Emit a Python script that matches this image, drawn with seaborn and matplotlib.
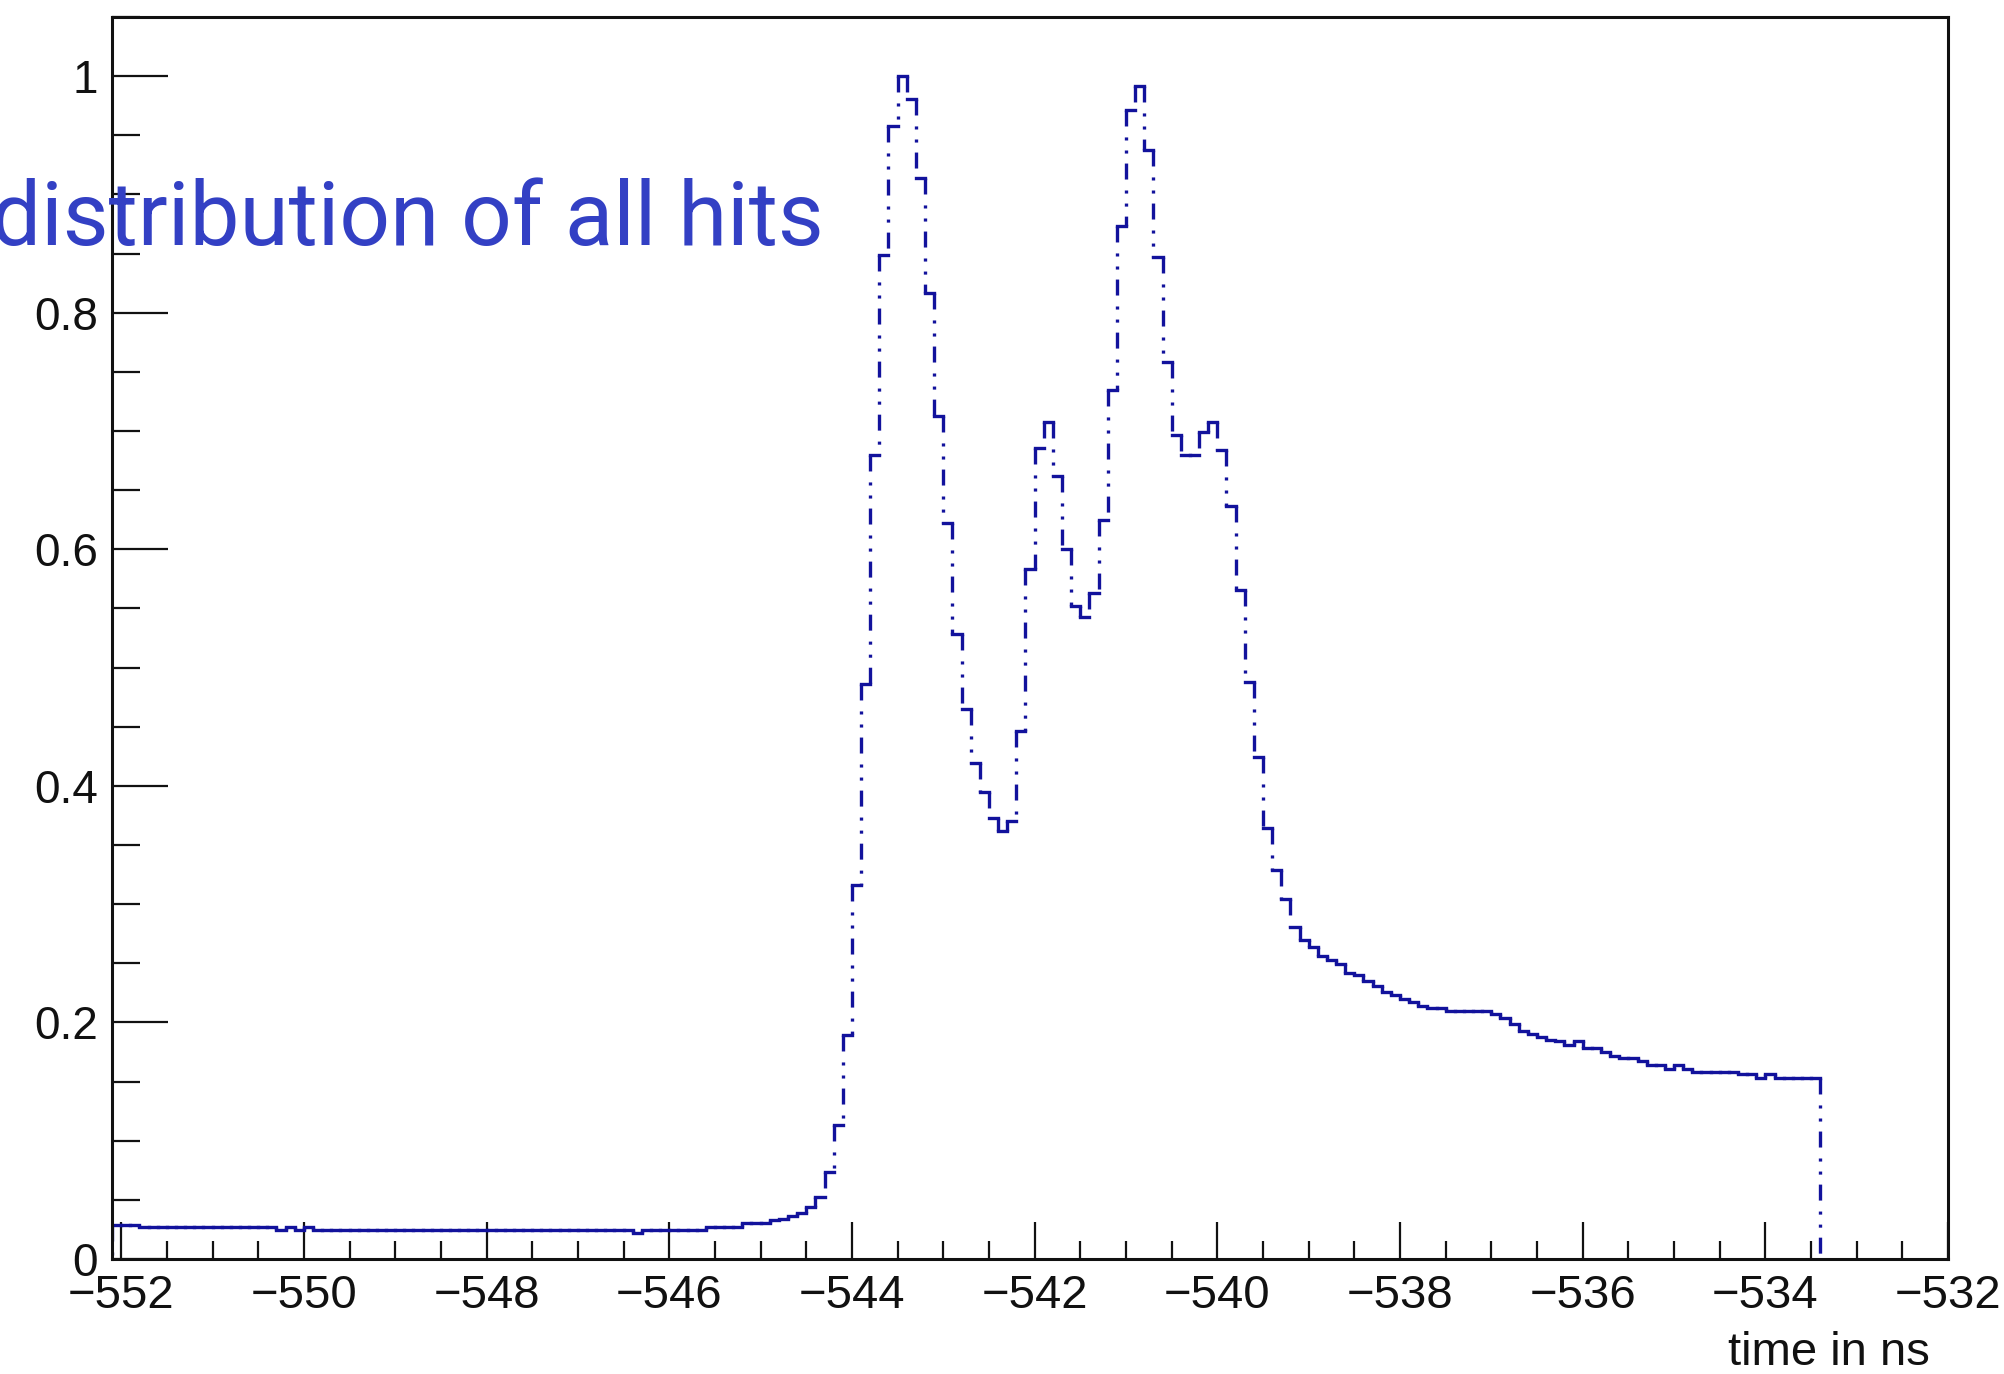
import numpy as np
import pandas as pd
import seaborn as sns
import matplotlib.pyplot as plt
from matplotlib.ticker import FixedLocator, MultipleLocator


# Histogramm: Binning und Inhalte (normiert auf das Maximum)

t_start = -552.1
bin_width = 0.1

# flacher Untergrund bis kurz vor dem Anstieg (-552.1 .. -544.3)
pre_rise = [
    0.0290, 0.0290, 0.0290, 0.0268, 0.0268, 0.0268, 0.0268, 0.0268, 0.0268, 0.0268,
    0.0268, 0.0268, 0.0268, 0.0268, 0.0268, 0.0268, 0.0268, 0.0268, 0.0243, 0.0268,
    0.0243, 0.0268, 0.0248, 0.0248, 0.0248, 0.0248, 0.0248, 0.0248, 0.0248, 0.0248,
    0.0248, 0.0248, 0.0248, 0.0248, 0.0248, 0.0248, 0.0248, 0.0248, 0.0248, 0.0248,
    0.0248, 0.0248, 0.0248, 0.0248, 0.0248, 0.0248, 0.0248, 0.0248, 0.0248, 0.0248,
    0.0248, 0.0248, 0.0248, 0.0248, 0.0248, 0.0248, 0.0248, 0.0217, 0.0248, 0.0248,
    0.0248, 0.0248, 0.0248, 0.0248, 0.0248, 0.0273, 0.0273, 0.0273, 0.0273, 0.0307,
    0.0307, 0.0307, 0.0330, 0.0340, 0.0362, 0.0392, 0.0443, 0.0520,
]

# die beiden Maxima (-544.3 .. -539.2)
peaks = [
    0.0739, 0.1134, 0.1895, 0.316, 0.486, 0.680, 0.849, 0.958, 1.000, 0.981,
    0.914, 0.817, 0.713, 0.622, 0.528, 0.465, 0.419, 0.395, 0.373, 0.362,
    0.370, 0.446, 0.583, 0.686, 0.708, 0.662, 0.600, 0.552, 0.543, 0.563,
    0.625, 0.735, 0.873, 0.971, 0.992, 0.938, 0.847, 0.758, 0.697, 0.680,
    0.680, 0.699, 0.708, 0.684, 0.637, 0.566, 0.488, 0.424, 0.364, 0.329,
    0.304,
]

# Auslauf (-539.2 .. -532.0)
tail = [
    0.281, 0.270, 0.264, 0.256, 0.253, 0.249, 0.242, 0.240, 0.235, 0.231,
    0.226, 0.223, 0.220, 0.217, 0.214, 0.212, 0.212, 0.210, 0.210, 0.210,
    0.210, 0.210, 0.207, 0.204, 0.199, 0.193, 0.190, 0.188, 0.185, 0.184,
    0.181, 0.184, 0.178, 0.178, 0.175, 0.172, 0.170, 0.170, 0.167, 0.164,
    0.164, 0.161, 0.164, 0.161, 0.158, 0.158, 0.158, 0.158, 0.158, 0.156,
    0.156, 0.153, 0.156, 0.153, 0.153, 0.153, 0.153, 0.153, 0.0, 0.0,
    0.0, 0.0, 0.0, 0.0, 0.0, 0.0, 0.0, 0.0, 0.0, 0.0,
    0.0, 0.0,
]

x_ticks = [-552, -550, -548, -546, -544, -542, -540, -538, -536, -534, -532]
x_tick_labels = ["\u2212" + str(abs(t)) for t in x_ticks]
y_ticks = [0, 0.2, 0.4, 0.6, 0.8, 1.0]
y_tick_labels = ["0", "0.2", "0.4", "0.6", "0.8", "1"]

hits = np.array(pre_rise + peaks + tail)
edges = t_start + bin_width * np.arange(len(hits) + 1)

# waagerechte Stuecke (durchgezogen), leere Bins liegen auf der Achse
flat = pd.DataFrame({
    "t": np.column_stack([edges[:-1], edges[1:]]).ravel(),
    "v": np.repeat(hits, 2),
    "seg": np.repeat(np.arange(len(hits)), 2),
})
flat = flat[flat["v"] > 0]

# senkrechte Stuecke, jeweils von oben nach unten (Strich-Punkt-Punkt)
padded = np.concatenate([[0.0], hits, [0.0]])
top = np.maximum(padded[:-1], padded[1:])
bottom = np.minimum(padded[:-1], padded[1:])
keep = top > bottom
steps = pd.DataFrame({
    "t": np.repeat(edges[keep], 2),
    "v": np.column_stack([top[keep], bottom[keep]]).ravel(),
    "seg": np.repeat(np.arange(keep.sum()), 2),
})


# Plot

sns.set_style("ticks")
plt.rcParams["font.family"] = ["Liberation Sans", "DejaVu Sans"]
plt.rcParams["lines.scale_dashes"] = False

fig = plt.figure(figsize=(20.04, 13.74), dpi=100)
ax = fig.add_axes([0.0559, 0.0837, 0.9162, 0.9039])

line_color = "#12129c"

sns.lineplot(data=flat, x="t", y="v", units="seg", estimator=None,
             color=line_color, linewidth=2.4, solid_capstyle="projecting",
             legend=False, ax=ax)

sns.lineplot(data=steps, x="t", y="v", units="seg", estimator=None, sort=False,
             color=line_color, linewidth=2.4,
             linestyle=(0, (11.5, 7.9, 2.2, 7.2, 2.2, 7.2)),
             dash_capstyle="butt", legend=False, ax=ax)

ax.set_xlim(t_start, -532)
ax.set_ylim(0, 1.05)

ax.xaxis.set_major_locator(FixedLocator(x_ticks))
ax.set_xticklabels(x_tick_labels)
ax.xaxis.set_minor_locator(MultipleLocator(0.5))
ax.yaxis.set_major_locator(FixedLocator(y_ticks))
ax.set_yticklabels(y_tick_labels)
ax.yaxis.set_minor_locator(MultipleLocator(0.05))

ax.tick_params(axis="x", which="major", direction="in", length=27, width=1.6,
               pad=11, labelsize=34, top=False, colors="#111111")
ax.tick_params(axis="x", which="minor", direction="in", length=13, width=1.6,
               top=False, colors="#111111")
ax.tick_params(axis="y", which="major", direction="in", length=40, width=1.6,
               pad=10, labelsize=33, right=False, colors="#111111")
ax.tick_params(axis="y", which="minor", direction="in", length=20, width=1.6,
               right=False, colors="#111111")

for s in ax.spines.values():
    s.set_linewidth(2.2)
    s.set_color("#111111")

ax.set_ylabel("")
ax.set_xlabel("time in ns", fontsize=34, loc="right", color="#111111")
ax.xaxis.set_label_coords(0.990, -0.0853)
ax.xaxis.label.set_va("baseline")

# Titel ragt links aus dem Bild
fig.text(0.4112, 0.8217, "distribution of all hits", ha="right", va="baseline",
         fontsize=64, color="#3340c4", family=["Roboto", "DejaVu Sans"], zorder=10)

fig.savefig("out.png", dpi=100)
